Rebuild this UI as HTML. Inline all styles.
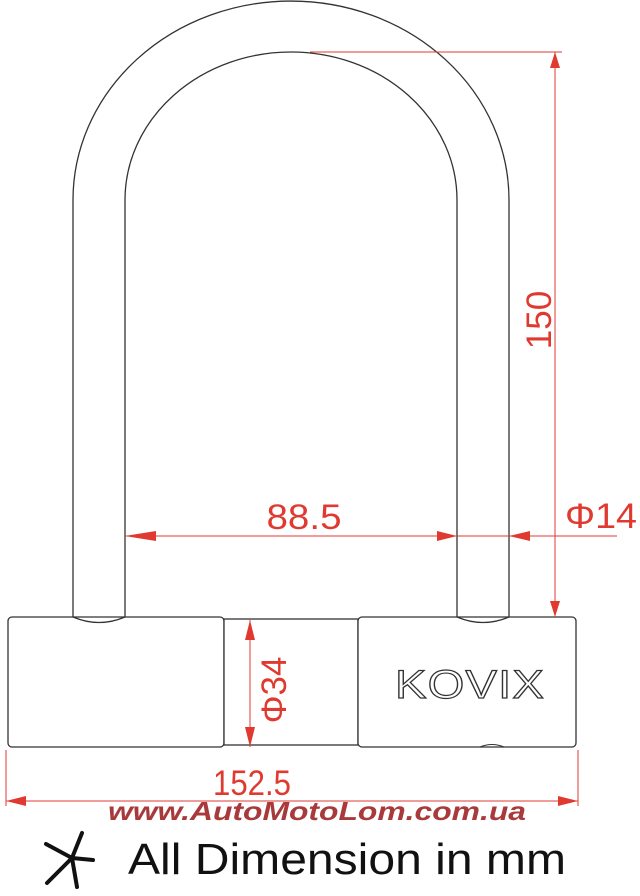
<!DOCTYPE html>
<html><head><meta charset="utf-8"><style>html,body{margin:0;padding:0;background:#fff}svg{display:block}</style></head>
<body>
<svg width="640" height="896" viewBox="0 0 640 896" xmlns="http://www.w3.org/2000/svg" font-family="Liberation Sans, sans-serif">
<g fill="none" stroke="#333" stroke-width="1.3">
<path d="M73 617 L73 200 A218 199 0 0 1 509 200 L509 617"/>
<path d="M125 617 L125 200 A166 148 0 0 1 457 200 L457 617"/>
<rect x="8" y="617" width="216" height="130" rx="4" fill="#fff"/>
<rect x="224" y="619" width="134" height="126" fill="#fff"/>
<rect x="358" y="617" width="218" height="130" rx="4" fill="#fff"/>
<path d="M480 747 Q492 742 504 747" stroke-width="1"/>
</g>
<path d="M73 617 Q99 628 125 617 M457 617 Q483 628 509 617" fill="none" stroke="#333" stroke-width="1.3"/>
<text x="470" y="698" text-anchor="middle" font-size="40" fill="#fff" stroke="#333" stroke-width="1.2" letter-spacing="1" textLength="150" lengthAdjust="spacingAndGlyphs">KOVIX</text>
<g stroke="#e03a30" stroke-width="1" fill="none">
<line x1="310" y1="52" x2="562" y2="52"/>
<line x1="555" y1="52" x2="555" y2="617"/>
<line x1="125" y1="536" x2="617" y2="536"/>
<line x1="250" y1="620" x2="250" y2="747"/>
<line x1="6" y1="750" x2="6" y2="806"/>
<line x1="578" y1="750" x2="578" y2="806"/>
<line x1="6" y1="801" x2="578" y2="801"/>
</g>
<g fill="#e03a30">
<polygon points="555,52 550,68 560,68"/>
<polygon points="555,617 550,601 560,601"/>
<polygon points="125,536 156,531 156,541"/>
<polygon points="457,536 437,531 437,541"/>
<polygon points="509,536 530,531 530,541"/>
<polygon points="250,620 245,640 255,640"/>
<polygon points="250,747 245,727 255,727"/>
<polygon points="6,801 26,796 26,806"/>
<polygon points="578,801 558,796 558,806"/>
</g>
<g fill="#e03a30" font-size="35">
<text x="304" y="529" text-anchor="middle" textLength="75" lengthAdjust="spacingAndGlyphs">88.5</text>
<text x="601" y="528" text-anchor="middle" textLength="72" lengthAdjust="spacingAndGlyphs">Φ14</text>
<text transform="translate(551,320) rotate(-90)" text-anchor="middle">150</text>
<text transform="translate(286,690) rotate(-90)" text-anchor="middle">Φ34</text>
<text x="252" y="795" text-anchor="middle" textLength="78" lengthAdjust="spacingAndGlyphs">152.5</text>
</g>
<text x="108" y="820" font-size="26" font-style="italic" font-weight="bold" fill="#a83a3c" textLength="418" lengthAdjust="spacingAndGlyphs">www.AutoMotoLom.com.ua</text>
<g stroke="#111" stroke-width="4" stroke-linecap="round" fill="none">
<line x1="82" y1="833" x2="72" y2="858"/>
<line x1="72" y1="858" x2="46" y2="844"/>
<line x1="72" y1="858" x2="93" y2="860"/>
<line x1="72" y1="858" x2="77" y2="887"/>
<line x1="72" y1="858" x2="47" y2="883"/>
</g>
<text x="128" y="874" font-size="44" fill="#111" textLength="438" lengthAdjust="spacingAndGlyphs">All Dimension in mm</text>
</svg>
</body></html>
